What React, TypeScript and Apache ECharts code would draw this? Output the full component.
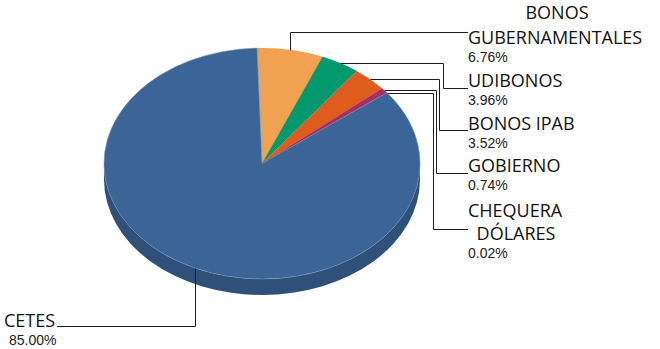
import React, { useEffect, useRef } from "react";
import * as echarts from "echarts";

const categories = ["BONOS GUBERNAMENTALES", "UDIBONOS", "BONOS IPAB", "GOBIERNO", "CHEQUERA DÓLARES", "CETES"];
const values = [6.76, 3.96, 3.52, 0.74, 0.02, 85.0];
const colors = ["#F0A250", "#03996F", "#DE5C1E", "#A22F68", "#8A3A6E", "#3A6596"];
const wallColors = ["#B87A3A", "#027353", "#A84516", "#7A234E", "#682B53", "#2F5179"];

const CX = 262;
const CY = 163.5;
const RX = 158;
const RY = 115.5;
const DEPTH = 16;
const START = -1.8;
const TOTAL = values.reduce((a, b) => a + b, 0);
const rad = (d: number) => (d * Math.PI) / 180;
const px = (d: number) => CX + RX * Math.sin(rad(d));
const py = (d: number, off = 0) => CY - RY * Math.cos(rad(d)) + off;

const spans: [number, number][] = [];
{
  let a = START;
  for (const v of values) {
    const b = a + (v / TOTAL) * 360;
    spans.push([a, b]);
    a = b;
  }
}

const routes = [
  { kind: "up", y: 32.5, endX: 468 },
  { kind: "side", elbowX: 443.5, y: 88.5, endX: 468 },
  { kind: "side", elbowX: 439.5, y: 130.5, endX: 468 },
  { kind: "side", elbowX: 436.5, y: 173.5, endX: 468 },
  { kind: "side", elbowX: 433.5, y: 229.5, endX: 468 },
  { kind: "up", y: 326.5, endX: 57 },
];

const NAME_FONT = '"Open Sans"';
const PCT_FONT = '"Liberation Sans"';
const nameLines: { text: string; x: number; y: number; align: string }[][] = [
  [
    { text: "BONOS", x: 557, y: 12, align: "center" },
    { text: "GUBERNAMENTALES", x: 468, y: 37, align: "left" },
  ],
  [{ text: "UDIBONOS", x: 468, y: 80, align: "left" }],
  [{ text: "BONOS IPAB", x: 468, y: 123, align: "left" }],
  [{ text: "GOBIERNO", x: 468, y: 165, align: "left" }],
  [
    { text: "CHEQUERA", x: 468, y: 210, align: "left" },
    { text: "DÓLARES", x: 516, y: 233, align: "center" },
  ],
  [{ text: "CETES", x: 4, y: 320, align: "left" }],
];
const pctPos = [
  { x: 468, y: 57 },
  { x: 468, y: 100 },
  { x: 468, y: 143 },
  { x: 468, y: 185 },
  { x: 468, y: 253 },
  { x: 9, y: 340 },
];

function renderWall(params: any) {
  const i = params.dataIndex;
  const a = Math.max(spans[i][0], 90);
  const b = Math.min(spans[i][1], 270);
  if (b <= a) return { type: "group", children: [] };
  const d =
    `M${px(a)} ${py(a)} L${px(a)} ${py(a, DEPTH)} ` +
    `A${RX} ${RY} 0 ${b - a > 180 ? 1 : 0} 1 ${px(b)} ${py(b, DEPTH)} ` +
    `L${px(b)} ${py(b)} A${RX} ${RY} 0 ${b - a > 180 ? 1 : 0} 0 ${px(a)} ${py(a)} Z`;
  return { type: "path", shape: { pathData: d }, style: { fill: wallColors[i] } };
}

function renderTop(params: any) {
  const i = params.dataIndex;
  const [a, b] = spans[i];
  const d =
    `M${CX} ${CY} L${px(a)} ${py(a)} ` +
    `A${RX} ${RY} 0 ${b - a > 180 ? 1 : 0} 1 ${px(b)} ${py(b)} Z`;
  return {
    type: "path",
    shape: { pathData: d },
    style: { fill: colors[i], stroke: i === 5 ? "#6F90B6" : colors[i], lineWidth: i === 5 ? 0.6 : 0.2 },
  };
}

function renderLabel(params: any, api: any) {
  const i = params.dataIndex;
  const value = api.value(0) as number;
  const mid = (spans[i][0] + spans[i][1]) / 2;
  const ax = Math.round(px(mid)) + 0.5;
  const ay = Math.round(py(mid)) + 0.5;
  const r: any = routes[i];
  const points =
    r.kind === "up"
      ? [[ax, ay], [ax, r.y], [r.endX, r.y]]
      : [[ax, ay], [r.elbowX, ay], [r.elbowX, r.y], [r.endX, r.y]];
  const children: any[] = [
    { type: "polyline", shape: { points }, style: { stroke: "#1c1c1c", lineWidth: 1, fill: "none" } },
  ];
  for (const l of nameLines[i]) {
    children.push({
      type: "text",
      style: {
        text: l.text, x: l.x, y: l.y, align: l.align, verticalAlign: "middle",
        font: `18px ${NAME_FONT}`, fill: "#111111",
      },
    });
  }
  children.push({
    type: "text",
    style: {
      text: `${value.toFixed(2)}%`, x: pctPos[i].x, y: pctPos[i].y, align: "left", verticalAlign: "middle",
      font: `14px ${PCT_FONT}`, fill: "#222222",
    },
  });
  return { type: "group", children };
}

export default function App() {
  const ref = useRef<HTMLDivElement>(null);
  useEffect(() => {
    document.body.style.margin = "0";
    const chart = echarts.init(ref.current!, undefined, { renderer: "svg" });
    const data = values.map((v, i) => ({ name: categories[i], value: [v] }));
    chart.setOption({
      animation: false,
      backgroundColor: "#ffffff",
      series: [
        { type: "custom", coordinateSystem: "none", silent: true, z: 1, data, renderItem: renderWall },
        { type: "custom", coordinateSystem: "none", silent: true, z: 2, data, renderItem: renderTop },
        { type: "custom", coordinateSystem: "none", silent: true, z: 3, data, renderItem: renderLabel },
      ],
    });
    return () => chart.dispose();
  }, []);
  return <div ref={ref} style={{ width: 660, height: 349 }} />;
}
